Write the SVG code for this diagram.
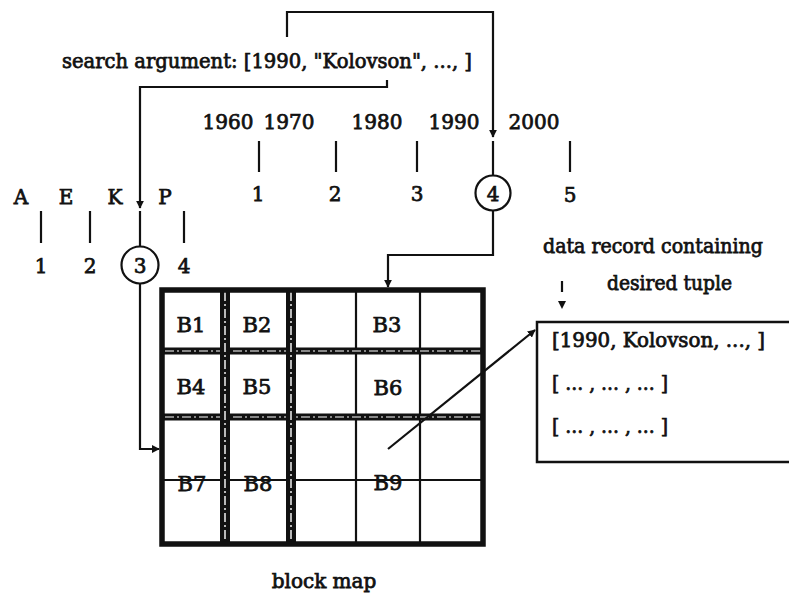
<svg xmlns="http://www.w3.org/2000/svg" width="789" height="597" viewBox="0 0 789 597">
  <style>
    text { font-family: "DejaVu Serif", "Liberation Serif", serif; fill: #111; stroke: #111; stroke-width: 0.75; }
    .t { font-size: 20px; }
    .c { text-anchor: middle; }
    .blk { font-size: 21px; text-anchor: middle; }
    .tick { stroke: #111; stroke-width: 2.2; }
    .wire { fill: none; stroke: #111; stroke-width: 2.2; }
    .ring { fill: none; stroke: #111; stroke-width: 2.2; }
    .edge { fill: none; stroke: #111; stroke-width: 5.5; }
    .dbl { stroke: #111; stroke-width: 10; }
    .dblgap { stroke: #fff; stroke-width: 1.4; stroke-dasharray: 9 3 2 3; }
    .thin { stroke: #111; stroke-width: 2.2; }
  </style>
  <defs>
    <marker id="arrow" viewBox="0 0 10 10" refX="9" refY="5" markerWidth="8" markerHeight="8" markerUnits="userSpaceOnUse" orient="auto">
      <path d="M0,0 L10,5 L0,10 Z" fill="#111"/>
    </marker>
  </defs>

  <rect width="789" height="597" fill="#fff"/>

  <!-- search argument -->
  <g id="search-argument">
    <text class="t" x="62" y="68" textLength="410" lengthAdjust="spacingAndGlyphs">search argument: [1990, "Kolovson", ..., ]</text>
  </g>

  <!-- year scale -->
  <g id="year-scale">
    <text class="t c" x="228" y="129">1960</text>
    <text class="t c" x="289" y="129">1970</text>
    <text class="t c" x="377" y="129">1980</text>
    <text class="t c" x="454" y="129">1990</text>
    <text class="t c" x="534" y="129">2000</text>
    <line class="tick" x1="259" y1="141" x2="259" y2="172"/>
    <line class="tick" x1="336" y1="141" x2="336" y2="172"/>
    <line class="tick" x1="417" y1="141" x2="417" y2="172"/>
    <line class="tick" x1="493" y1="141" x2="493" y2="176"/>
    <line class="tick" x1="570" y1="141" x2="570" y2="172"/>
    <text class="t c" x="258" y="201">1</text>
    <text class="t c" x="335" y="201">2</text>
    <text class="t c" x="417" y="201">3</text>
    <circle class="ring" cx="493" cy="193" r="17.5"/>
    <text class="t c" x="493" y="201">4</text>
    <text class="t c" x="570" y="202">5</text>
  </g>

  <!-- name scale -->
  <g id="name-scale">
    <text class="t c" x="21" y="204">A</text>
    <text class="t c" x="66" y="204">E</text>
    <text class="t c" x="115" y="204">K</text>
    <text class="t c" x="165" y="204">P</text>
    <line class="tick" x1="41" y1="211" x2="41" y2="243"/>
    <line class="tick" x1="90" y1="211" x2="90" y2="243"/>
    <line class="tick" x1="140" y1="211" x2="140" y2="246"/>
    <line class="tick" x1="184" y1="211" x2="184" y2="243"/>
    <text class="t c" x="41" y="273">1</text>
    <text class="t c" x="90" y="273">2</text>
    <circle class="ring" cx="140" cy="265" r="18.5"/>
    <text class="t c" x="140" y="273">3</text>
    <text class="t c" x="184" y="273">4</text>
  </g>

  <!-- block map grid -->
  <g id="block-map">
    <line class="thin" x1="356" y1="290" x2="356" y2="544"/>
    <line class="thin" x1="420" y1="290" x2="420" y2="544"/>
    <line class="thin" x1="162" y1="480" x2="483" y2="480"/>
    <line class="dbl" x1="162" y1="351" x2="483" y2="351" style="stroke-width:7"/>
    <line class="dbl" x1="162" y1="417" x2="483" y2="417" style="stroke-width:7"/>
    <line class="dblgap" x1="165" y1="351" x2="480" y2="351" style="stroke-width:1.1"/>
    <line class="dblgap" x1="165" y1="417" x2="480" y2="417" style="stroke-width:1.1"/>
    <line class="dbl" x1="225" y1="290" x2="225" y2="544"/>
    <line class="dbl" x1="291" y1="290" x2="291" y2="544"/>
    <line class="dblgap" x1="225" y1="292" x2="225" y2="542"/>
    <line class="dblgap" x1="291" y1="292" x2="291" y2="542"/>
    <rect class="edge" x="162" y="290" width="321" height="254"/>
    <text class="blk" x="191" y="332">B1</text>
    <text class="blk" x="257" y="332">B2</text>
    <text class="blk" x="387" y="332">B3</text>
    <text class="blk" x="191" y="394">B4</text>
    <text class="blk" x="257" y="394">B5</text>
    <text class="blk" x="388" y="395">B6</text>
    <text class="blk" x="192" y="491">B7</text>
    <text class="blk" x="258" y="491">B8</text>
    <text class="blk" x="388" y="490">B9</text>
    <text class="t c" x="324" y="588">block map</text>
  </g>

  <!-- data record -->
  <g id="data-record">
    <text class="t" x="543" y="253" textLength="220" lengthAdjust="spacingAndGlyphs">data record containing</text>
    <text class="t" x="607" y="290" textLength="125" lengthAdjust="spacingAndGlyphs">desired tuple</text>
    <line class="tick" x1="562" y1="281" x2="562" y2="292"/>
    <path d="M558,301 L566,301 L562,309 Z" fill="#111"/>
    <rect x="537" y="322" width="260" height="140" fill="none" stroke="#111" stroke-width="2.5"/>
    <text class="t" x="552" y="347" textLength="213" lengthAdjust="spacingAndGlyphs">[1990, Kolovson, ..., ]</text>
    <text class="t" x="552" y="390" textLength="116" lengthAdjust="spacingAndGlyphs">[ ... , ... , ... ]</text>
    <text class="t" x="552" y="433" textLength="116" lengthAdjust="spacingAndGlyphs">[ ... , ... , ... ]</text>
  </g>

  <!-- connectors -->
  <g id="connectors">
    <path class="wire" d="M287,37 V12 H493 V137" marker-end="url(#arrow)"/>
    <path class="wire" d="M387,80 V87 H140 V208" marker-end="url(#arrow)"/>
    <path class="wire" d="M140,283.5 V449 H159" marker-end="url(#arrow)"/>
    <path class="wire" d="M493,210.5 V255 H388 V287" marker-end="url(#arrow)"/>
    <line class="wire" x1="388" y1="449" x2="535" y2="330" marker-end="url(#arrow)"/>
  </g>
</svg>
